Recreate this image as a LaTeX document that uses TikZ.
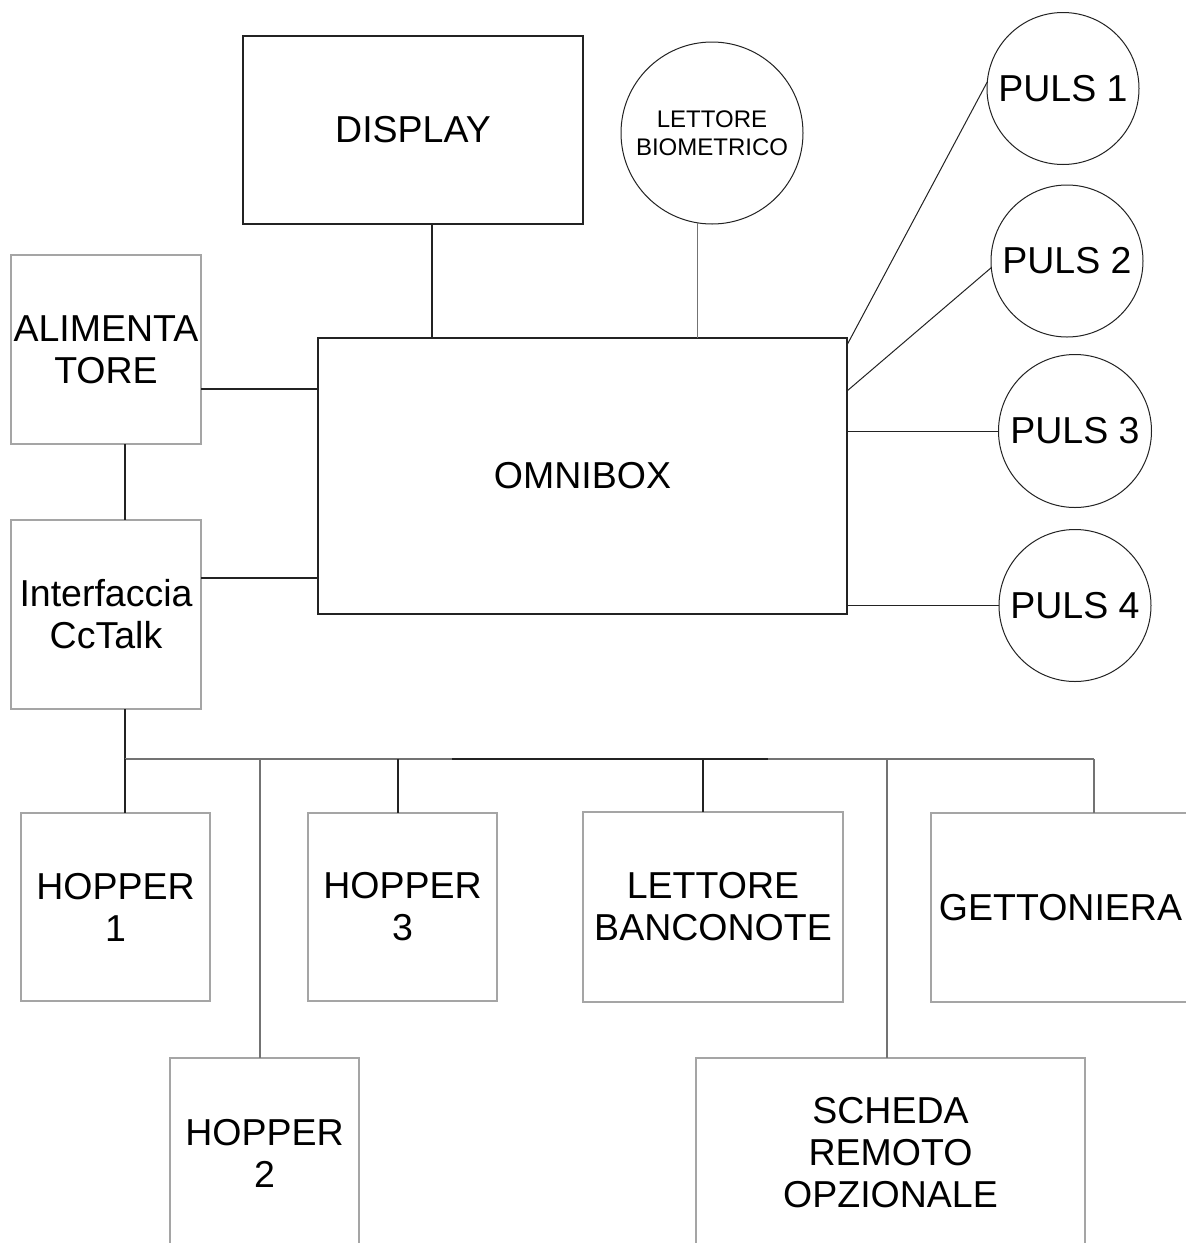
\documentclass[tikz,border=0pt]{standalone}
\usepackage{fontspec}
\setmainfont{Liberation Sans}
\usetikzlibrary{calc}
\definecolor{boxgrey}{RGB}{165,165,165}
\definecolor{darkline}{RGB}{35,35,35}
\definecolor{midline}{RGB}{115,115,115}
\newcommand{\bigtext}{\fontsize{37.5}{42}\selectfont}
\newcommand{\smalltext}{\fontsize{24}{27.5}\selectfont}
\begin{document}
\begin{tikzpicture}[x=1pt,y=-1pt,
  greybox/.style={draw=boxgrey, line width=1.2pt, inner sep=0pt, outer sep=0pt, align=center, font=\bigtext, text=black},
  darkbox/.style={draw=darkline, line width=1.2pt, inner sep=0pt, outer sep=0pt, align=center, font=\bigtext, text=black},
  pulsnode/.style={draw=darkline, line width=1pt, circle, inner sep=0pt, outer sep=0pt, align=center, font=\bigtext},
  conn/.style={draw=darkline, line width=1.2pt},
  conngrey/.style={draw=midline, line width=1.2pt},
  connthin/.style={draw=darkline, line width=1pt}]
\useasboundingbox (0,0) rectangle (1186,1243);
\clip (0,0) rectangle (1186,1243);
\fill[white] (0,0) rectangle (1186,1243);

% upper boxes
\node[darkbox, minimum width=340, minimum height=188] (display) at (413,130) {DISPLAY};
\node[darkbox, minimum width=529, minimum height=276] (omni) at (582.5,476) {OMNIBOX};
\node[pulsnode, minimum size=182, font=\smalltext] (bio) at (712,133) {LETTORE\\BIOMETRICO};

% left boxes
\node[greybox, minimum width=190, minimum height=189] (alim) at (106,349.5) {ALIMENTA\\TORE};
\node[greybox, minimum width=190, minimum height=189] (iface) at (106,614.5) {Interfaccia\\CcTalk};

% buttons
\node[pulsnode, minimum size=152] (p1) at (1063,88.5) {PULS 1};
\node[pulsnode, minimum size=152] (p2) at (1067,261) {PULS 2};
\node[pulsnode, minimum size=153] (p3) at (1075,431) {PULS 3};
\node[pulsnode, minimum size=152] (p4) at (1075,605.5) {PULS 4};

% lower boxes
\node[greybox, minimum width=189, minimum height=188] (hop1) at (115.5,907) {HOPPER\\1};
\node[greybox, minimum width=189, minimum height=188] (hop3) at (402.5,907) {HOPPER\\3};
\node[greybox, minimum width=260, minimum height=190] (lb) at (713,907) {LETTORE\\BANCONOTE};
\node[greybox, minimum width=259, minimum height=189] (gett) at (1060.5,907.5) {GETTONIERA};
\node[greybox, minimum width=189, minimum height=190] (hop2) at (264.5,1153) {HOPPER\\2};
\node[greybox, minimum width=389, minimum height=190] (scheda) at (890.5,1153) {SCHEDA\\REMOTO\\OPZIONALE};

% connectors to OMNIBOX
\coordinate (ds) at ($(display.south west)+(189,0)$);
\draw[conn] (ds) -- (ds |- omni.north);
\draw[conngrey] (bio.-99) -- (bio.-99 |- omni.north);
\coordinate (ae) at ($(alim.north east)+(0,134)$);
\draw[conn] (ae) -- (ae -| omni.west);
\coordinate (ie) at ($(iface.north east)+(0,58)$);
\draw[conn] (ie) -- (ie -| omni.west);
\coordinate (as) at ($(alim.south west)+(114,0)$);
\draw[conn] (as) -- (as |- iface.north);

% buttons
\draw[connthin] ($(omni.north east)+(0,7)$) -- (p1.175);
\draw[connthin] ($(omni.north east)+(0,53)$) -- (p2.185);
\draw[connthin] (omni.east |- p3.west) -- (p3.west);
\draw[connthin] (omni.east |- p4.west) -- (p4.west);

% bus
\coordinate (is) at ($(iface.south west)+(114,0)$);
\coordinate (busL) at (125,759);
\coordinate (busA) at (452,759);
\coordinate (busB) at (768,759);
\coordinate (busR) at (1094,759);
\coordinate (b2) at (260,759);
\coordinate (b3) at (398,759);
\coordinate (b4) at (703,759);
\coordinate (b5) at (887,759);
\draw[conn] (is) -- (busL);
\draw[conngrey] (busL) -- (busA);
\draw[conn] (busA) -- (busB);
\draw[conngrey] (busB) -- (busR);
\draw[conn] (busL) -- (busL |- hop1.north);
\draw[conngrey] (b2) -- (b2 |- hop2.north);
\draw[conn] (b3) -- (b3 |- hop3.north);
\draw[conn] (b4) -- (b4 |- lb.north);
\draw[conngrey] (b5) -- (b5 |- scheda.north);
\draw[conngrey] (busR) -- (busR |- gett.north);
\end{tikzpicture}
\end{document}
